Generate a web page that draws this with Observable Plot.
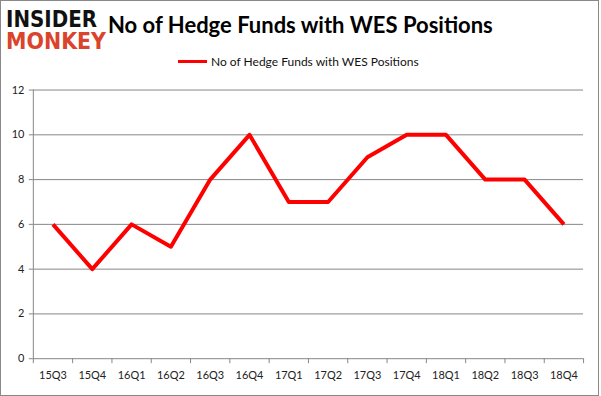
<!DOCTYPE html>
<html><head><meta charset="utf-8">
<script src="https://cdn.jsdelivr.net/npm/d3@7"></script>
<script src="https://cdn.jsdelivr.net/npm/@observablehq/plot@0.6"></script>
<style>
html,body{margin:0;padding:0;background:#fff;}
#wrap{position:relative;width:599px;height:396px;box-sizing:border-box;border:1px solid #898989;overflow:hidden;}
#chart{position:absolute;left:-1px;top:-1px;}
#overlay{position:absolute;left:-1px;top:-1px;}
</style></head><body>
<div id="wrap"><div id="chart"></div><svg id="overlay" width="601" height="396"></svg></div>
<script>
const quarters = ["15Q3","15Q4","16Q1","16Q2","16Q3","16Q4","17Q1","17Q2","17Q3","17Q4","18Q1","18Q2","18Q3","18Q4"];
const funds = [6,4,6,5,8,10,7,7,9,10,10,8,8,6];
const yTicks = [0,2,4,6,8,10,12];
const titleText = "No of Hedge Funds with WES Positions";
const seriesName = "No of Hedge Funds with WES Positions";
const logoTop = "INSIDER";
const logoBottom = "MONKEY";

const data = quarters.map((q, i) => ({quarter: q, value: funds[i]}));
const W = 601, H = 396, ml = 33, mr = 15, mt = 90, mb = 36;
const step = (W - ml - mr) / quarters.length;
const grid = "#868686";
const font = "Lato, 'Open Sans', sans-serif";

const plot = Plot.plot({
  width: W, height: H,
  marginLeft: ml, marginRight: mr, marginTop: mt, marginBottom: mb,
  style: {fontFamily: font, fontSize: "11px", color: "#222", background: "transparent"},
  x: {type: "point", domain: quarters, padding: 0.5, round: false, axis: null},
  y: {domain: [0, 12], round: false, axis: null},
  marks: [
    Plot.gridY(yTicks, {stroke: grid, strokeOpacity: 1}),
    Plot.ruleX([quarters[0]], {dx: -step / 2, stroke: grid}),
    Plot.axisY(yTicks, {tickSize: 4, tickPadding: 5, stroke: grid, label: null, fill: "#222", fontSize: 11}),
    Plot.axisX(quarters, {tickSize: 5, tickFormat: () => "", dx: -step / 2, stroke: grid, label: null}),
    Plot.axisX([quarters[quarters.length - 1]], {tickSize: 5, tickFormat: () => "", dx: step / 2, stroke: grid, label: null}),
    Plot.axisX(quarters, {tickSize: 0, tickPadding: 13, label: null, fill: "#222", fontSize: 11}),
    Plot.line(data, {x: "quarter", y: "value", stroke: "#ff0000", strokeWidth: 4, strokeLinejoin: "round", strokeLinecap: "butt"})
  ]
});
document.getElementById("chart").appendChild(plot);

const ov = d3.select("#overlay");
ov.append("text").attr("x", 6).attr("y", 27).attr("textLength", 91).attr("lengthAdjust", "spacingAndGlyphs")
  .attr("font-family", "'DejaVu Sans', sans-serif").attr("font-weight", "bold").attr("font-size", 23)
  .attr("fill", "#111").text(logoTop);
ov.append("text").attr("x", 6).attr("y", 49).attr("textLength", 100).attr("lengthAdjust", "spacingAndGlyphs")
  .attr("font-family", "'DejaVu Sans', sans-serif").attr("font-weight", "bold").attr("font-size", 23)
  .attr("fill", "#d9442b").text(logoBottom);
ov.append("text").attr("x", 108).attr("y", 33)
  .attr("font-family", font).attr("font-weight", "bold").attr("font-size", 22)
  .attr("fill", "#000").text(titleText);
ov.append("line").attr("x1", 178).attr("x2", 207).attr("y1", 61.5).attr("y2", 61.5)
  .attr("stroke", "#ff0000").attr("stroke-width", 3);
ov.append("text").attr("x", 211).attr("y", 66)
  .attr("font-family", font).attr("font-size", 12)
  .attr("fill", "#111").text(seriesName);
</script>
</body></html>
